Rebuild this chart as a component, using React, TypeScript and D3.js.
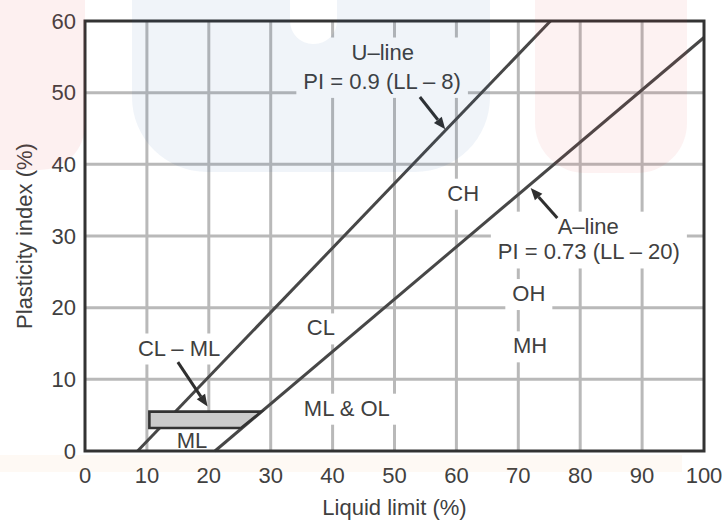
import React, { useEffect, useRef } from "react";
import * as d3 from "d3";

// ---- data ----
const xTicks = [0, 10, 20, 30, 40, 50, 60, 70, 80, 90, 100];
const yTicks = [0, 10, 20, 30, 40, 50, 60];
const xGrid = [10, 20, 30, 40, 50, 60, 70, 80, 90];
const yGrid = [10, 20, 30, 40, 50];

const uLine = [
  { ll: 8.5, pi: 0 },
  { ll: 75.2, pi: 60 },
];
const aLine = [
  { ll: 21, pi: 0 },
  { ll: 100, pi: 57.7 },
];
const clMlZone = [
  { ll: 10.4, pi: 5.5 },
  { ll: 28.5, pi: 5.5 },
  { ll: 25.2, pi: 3.2 },
  { ll: 10.4, pi: 3.2 },
];
const arrows = [
  { from: { ll: 54.1, pi: 49.4 }, to: { ll: 58.2, pi: 44.9 } },
  { from: { ll: 76.3, pi: 32.5 }, to: { ll: 72.0, pi: 36.7 } },
  { from: { ll: 15.0, pi: 12.4 }, to: { ll: 19.8, pi: 6.2 } },
];
const labelGroups = [
  [
    { text: "U–line", ll: 48.1, pi: 55.7 },
    { text: "PI = 0.9 (LL – 8)", ll: 48.0, pi: 51.6 },
  ],
  [
    { text: "A–line", ll: 81.3, pi: 31.4 },
    { text: "PI = 0.73 (LL – 20)", ll: 81.4, pi: 27.8 },
  ],
  [{ text: "CH", ll: 61.1, pi: 36.0 }],
  [{ text: "OH", ll: 71.7, pi: 22.0 }],
  [{ text: "MH", ll: 71.9, pi: 14.7 }],
  [{ text: "CL", ll: 38.1, pi: 17.2 }],
  [{ text: "CL – ML", ll: 15.2, pi: 14.4 }],
  [{ text: "ML & OL", ll: 42.3, pi: 6.0 }],
  [{ text: "ML", ll: 17.3, pi: 1.5 }],
];
const xTitle = "Liquid limit (%)";
const yTitle = "Plasticity index (%)";

const W = 728;
const H = 520;
const M = { left: 85, right: 24, top: 21, bottom: 69 };
const FONT = "'Liberation Sans', Arial, sans-serif";
const TEXT = "#404040";

function bottomRounded(x0: number, x1: number, y0: number, y1: number, r: number) {
  return `M${x0},${y0}H${x1}V${y1 - r}A${r},${r} 0 0 1 ${x1 - r},${y1}H${x0 + r}A${r},${r} 0 0 1 ${x0},${y1 - r}Z`;
}

export default function App() {
  const ref = useRef<SVGSVGElement>(null);

  useEffect(() => {
    const svg = d3.select(ref.current);
    svg.selectAll("*").remove();

    const x = d3.scaleLinear().domain([0, 100]).range([M.left, W - M.right]);
    const y = d3.scaleLinear().domain([0, 60]).range([H - M.bottom, M.top]);

    svg.append("rect").attr("width", W).attr("height", H).attr("fill", "#fff");

    // grid
    const grid = svg.append("g").attr("stroke", "#b9b9b9").attr("stroke-width", 3);
    grid
      .selectAll("line.v")
      .data(xGrid)
      .join("line")
      .attr("x1", (d) => x(d))
      .attr("x2", (d) => x(d))
      .attr("y1", y(0))
      .attr("y2", y(60));
    grid
      .selectAll("line.h")
      .data(yGrid)
      .join("line")
      .attr("y1", (d) => y(d))
      .attr("y2", (d) => y(d))
      .attr("x1", x(0))
      .attr("x2", x(100));

    // labels with white halos
    const haloLayer = svg.append("g");
    const lineLayer = svg.append("g");
    const labelLayer = svg.append("g");

    labelGroups.forEach((group) => {
      const g = labelLayer.append("g");
      group.forEach((lb) => {
        g.append("text")
          .attr("x", x(lb.ll))
          .attr("y", y(lb.pi))
          .attr("dy", "0.35em")
          .attr("text-anchor", "middle")
          .attr("font-family", FONT)
          .attr("font-size", 22)
          .attr("fill", TEXT)
          .text(lb.text);
      });
      const bb = (g.node() as SVGGElement).getBBox();
      haloLayer
        .append("rect")
        .attr("x", bb.x - 7)
        .attr("y", bb.y - 2)
        .attr("width", bb.width + 14)
        .attr("height", bb.height + 6)
        .attr("fill", "#fff");
    });

    // U-line and A-line
    const line = d3
      .line<{ ll: number; pi: number }>()
      .x((d) => x(d.ll))
      .y((d) => y(d.pi));
    [uLine, aLine].forEach((data) => {
      lineLayer
        .append("path")
        .attr("d", line(data))
        .attr("fill", "none")
        .attr("stroke", "#474747")
        .attr("stroke-width", 3);
    });

    // CL-ML zone
    lineLayer
      .append("path")
      .attr("d", line(clMlZone) + "Z")
      .attr("fill", "#cbcbcb")
      .attr("stroke", "#333")
      .attr("stroke-width", 2.6)
      .attr("stroke-linejoin", "miter");

    // arrows
    arrows.forEach((a) => {
      const x1 = x(a.from.ll), y1 = y(a.from.pi), x2 = x(a.to.ll), y2 = y(a.to.pi);
      const ang = Math.atan2(y2 - y1, x2 - x1);
      const hl = 12, hw = 5;
      const bx = x2 - hl * Math.cos(ang), by = y2 - hl * Math.sin(ang);
      lineLayer
        .append("line")
        .attr("x1", x1)
        .attr("y1", y1)
        .attr("x2", bx)
        .attr("y2", by)
        .attr("stroke", "#2f2f2f")
        .attr("stroke-width", 3);
      const px = -Math.sin(ang), py = Math.cos(ang);
      lineLayer
        .append("path")
        .attr(
          "d",
          `M${x2},${y2}L${bx + hw * px},${by + hw * py}L${bx - hw * px},${by - hw * py}Z`
        )
        .attr("fill", "#2f2f2f");
    });

    // frame
    svg
      .append("rect")
      .attr("x", x(0))
      .attr("y", y(60))
      .attr("width", x(100) - x(0))
      .attr("height", y(0) - y(60))
      .attr("fill", "none")
      .attr("stroke", "#333")
      .attr("stroke-width", 3);

    // tick labels
    svg
      .append("g")
      .selectAll("text")
      .data(xTicks)
      .join("text")
      .attr("x", (d) => x(d))
      .attr("y", y(0) + 24)
      .attr("dy", "0.35em")
      .attr("text-anchor", "middle")
      .attr("font-family", FONT)
      .attr("font-size", 22)
      .attr("fill", TEXT)
      .text((d) => String(d));
    svg
      .append("g")
      .selectAll("text")
      .data(yTicks)
      .join("text")
      .attr("x", x(0) - 9)
      .attr("y", (d) => y(d))
      .attr("dy", "0.35em")
      .attr("text-anchor", "end")
      .attr("font-family", FONT)
      .attr("font-size", 22)
      .attr("fill", TEXT)
      .text((d) => String(d));

    // axis titles
    svg
      .append("text")
      .attr("x", (x(0) + x(100)) / 2)
      .attr("y", 507)
      .attr("dy", "0.35em")
      .attr("text-anchor", "middle")
      .attr("font-family", FONT)
      .attr("font-size", 22)
      .attr("fill", TEXT)
      .text(xTitle);
    svg
      .append("text")
      .attr("transform", `translate(24,${(y(0) + y(60)) / 2}) rotate(-90)`)
      .attr("dy", "0.35em")
      .attr("text-anchor", "middle")
      .attr("font-family", FONT)
      .attr("font-size", 22)
      .attr("fill", TEXT)
      .text(yTitle);

    // faint background tints (overlay)
    const wm = svg.append("g").style("pointer-events", "none");
    wm.append("path")
      .attr("d", bottomRounded(132, 490, -20, 172, 75) + bottomRounded(290, 337, -20, 44, 23))
      .attr("fill-rule", "evenodd")
      .attr("fill", "rgb(30,90,170)")
      .attr("opacity", 0.065);
    wm.append("path")
      .attr("d", bottomRounded(535, 687, -20, 173, 50))
      .attr("fill", "rgb(230,60,60)")
      .attr("opacity", 0.065);
    wm.append("path")
      .attr("d", bottomRounded(-60, 85, -20, 170, 45))
      .attr("fill", "rgb(230,60,60)")
      .attr("opacity", 0.08);
    wm.append("rect")
      .attr("x", -10)
      .attr("y", 455)
      .attr("width", 692)
      .attr("height", 17)
      .attr("fill", "rgb(245,150,60)")
      .attr("opacity", 0.06);
  }, []);

  return (
    <svg
      ref={ref}
      width={W}
      height={H}
      style={{ position: "absolute", left: 0, top: 0, display: "block" }}
    />
  );
}
